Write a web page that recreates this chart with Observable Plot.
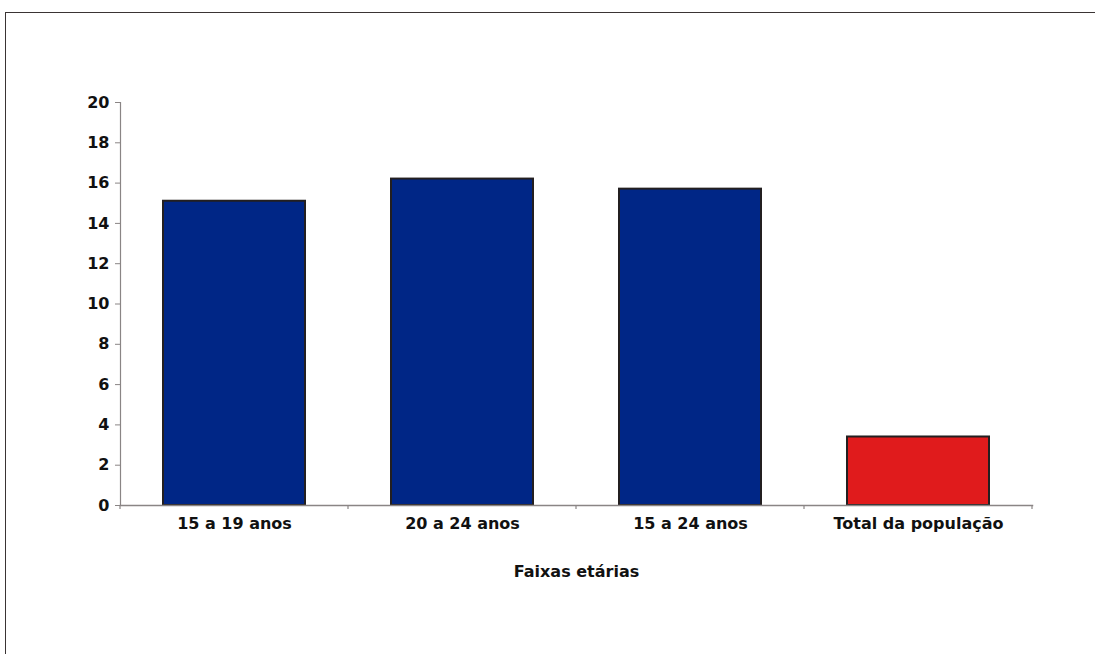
<!DOCTYPE html>
<html>
<head>
<meta charset="utf-8">
<script src="https://cdn.jsdelivr.net/npm/d3@7"></script>
<script src="https://cdn.jsdelivr.net/npm/@observablehq/plot@0.6"></script>
<style>
  html, body { margin: 0; padding: 0; background: #fff; }
  #wrap { position: relative; width: 1095px; height: 654px; overflow: hidden; }
  #border {
    position: absolute; left: 5px; top: 12px; width: 1200px; height: 700px;
    border-left: 1.5px solid #3a3434; border-top: 1.5px solid #3a3434;
    box-sizing: border-box; pointer-events: none;
  }
  #chart { position: absolute; left: 0; top: 0; }
  svg text { font-family: "DejaVu Sans", "Open Sans", sans-serif; font-weight: 700; }
</style>
</head>
<body>
<div id="wrap">
  <div id="chart"></div>
  <div id="border"></div>
</div>
<script>
// Age groups and their values
const categories = ["15 a 19 anos", "20 a 24 anos", "15 a 24 anos", "Total da população"];
const values = [15.1, 16.2, 15.7, 3.4];
const fills = ["#002686", "#002686", "#002686", "#e01b1c"];
const yTicks = [0, 2, 4, 6, 8, 10, 12, 14, 16, 18, 20];
const xLabel = "Faixas etárias";

const data = categories.map((c, i) => ({cat: c, value: values[i], fill: fills[i]}));

// small tick marks on the category axis, at the band boundaries
function bandBoundaryTicks(index, scales, values, dim) {
  const g = d3.create("svg:g");
  const n = categories.length;
  const w = dim.width - dim.marginLeft - dim.marginRight;
  const yb = dim.height - dim.marginBottom;
  for (let i = 0; i <= n; i++) {
    const x = dim.marginLeft + (i * w) / n;
    g.append("line").attr("x1", x).attr("x2", x).attr("y1", yb).attr("y2", yb + 4)
      .attr("stroke", "#8a8585").attr("stroke-width", 1.2);
  }
  return g.node();
}

const chart = Plot.plot({
  width: 1095,
  height: 654,
  marginLeft: 120,
  marginRight: 63,
  marginTop: 102,
  marginBottom: 149,
  style: {fontSize: "16px", color: "#111"},
  x: {domain: categories, paddingInner: 0.377, paddingOuter: 0.1885, label: null},
  y: {domain: [0, 20], label: null},
  marks: [
    Plot.barY(data, {x: "cat", y: "value", fill: "fill", stroke: "#231f20", strokeWidth: 2}),
    Plot.frame({anchor: "left", stroke: "#8a8585", strokeWidth: 1.2}),
    Plot.frame({anchor: "bottom", stroke: "#8a8585", strokeWidth: 1.5}),
    Plot.axisY({ticks: yTicks, tickSize: 5, tickPadding: 6, stroke: "#8a8585", fill: "#111", fontSize: 16, fontWeight: 700}),
    Plot.axisX({tickSize: 0, tickPadding: 12, fill: "#111", fontSize: 16, fontWeight: 700, label: null}),
    bandBoundaryTicks,
    Plot.text([xLabel], {frameAnchor: "bottom", dy: 71, fontSize: 16, fontWeight: 700, fill: "#111"})
  ]
});
document.getElementById("chart").appendChild(chart);
</script>
</body>
</html>
